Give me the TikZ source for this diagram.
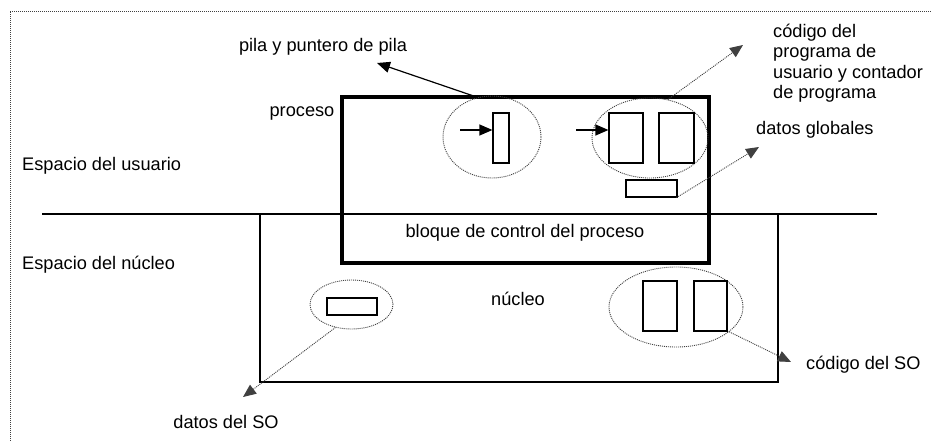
\documentclass[tikz,border=0pt]{standalone}
\usepackage{fontspec}
\setmainfont{Liberation Sans}
\usetikzlibrary{shapes.geometric}
\usetikzlibrary{arrows.meta}
\tikzstyle{cell} = [rectangle, draw=black, line width=1.2pt, inner sep=0pt]
\tikzstyle{zone} = [ellipse, draw=black!75, dash pattern=on 1pt off 1pt, line width=0.9pt, inner sep=0pt]
\tikzstyle{txt} = [inner sep=0pt, font=\fontsize{18.2}{20.5}\selectfont]
\tikzstyle{hint} = [dash pattern=on 1pt off 1pt, line width=0.9pt, draw=black!75]

\begin{document}
\begin{tikzpicture}[x=1pt, y=-1pt, >={Triangle[length=13pt,width=11pt]}]
\useasboundingbox (0,0) rectangle (932,441);
\draw [black!75, dash pattern=on 1pt off 1pt, line width=0.8pt] (10,441) -- (10,11) -- (932,11);

% regiones
\node (kern) [rectangle, draw, line width=1.2pt, minimum width=518pt, minimum height=168pt] at (519,298) {};
\coordinate (sepL) at (42,214);
\coordinate (sepR) at (877,214);
\draw [line width=1.2pt] (sepL) -- (sepR);
\node (proc) [rectangle, draw, line width=3.5pt, minimum width=367pt, minimum height=166pt] at (525.5,180) {};

% textos
\node (stacklbl) [txt] at (323,47) {pila y puntero de pila};
\node (proclbl) [txt] at (302,113) {proceso};
\node (userlbl) [txt, anchor=west] at (22,166) {Espacio del usuario};
\node (kernlbl) [txt, anchor=west] at (22,265) {Espacio del núcleo};
\node (codelbl) [txt, anchor=west, align=left] at (773,63) {código del\\programa de\\usuario y contador\\de programa};
\node (globlbl) [txt, anchor=west] at (756,130) {datos globales};
\node (pcblbl) [txt] at (525,233) {bloque de control del proceso};
\node (nuclbl) [txt] at (518,299) {núcleo};
\node (socodelbl) [txt, anchor=west] at (806,365) {código del SO};
\node (sodatalbl) [txt] at (226,422) {datos del SO};

% espacio del usuario
\node (sstack) [zone, minimum width=98pt, minimum height=82pt] at (492,137) {};
\node (stack) [cell, minimum width=16pt, minimum height=50pt] at (501,138) {};
\node (scode) [zone, minimum width=116pt, minimum height=80pt] at (650,138) {};
\node (codeA) [cell, minimum width=34pt, minimum height=50pt] at (626,138) {};
\node (codeB) [cell, minimum width=35pt, minimum height=50pt] at (676.5,138) {};
\node (glob) [cell, minimum width=51pt, minimum height=17pt] at (651.5,188.5) {};

% espacio del nucleo
\node (sdata) [zone, minimum width=83pt, minimum height=49pt] at (351.5,304.5) {};
\node (sodata) [cell, minimum width=50pt, minimum height=17pt] at (352,306.5) {};
\node (kcode) [zone, minimum width=134pt, minimum height=80pt] at (676,307) {};
\node (kcodeA) [cell, minimum width=34pt, minimum height=50pt] at (660,306) {};
\node (kcodeB) [cell, minimum width=33pt, minimum height=50pt] at (710.5,306) {};

\coordinate (stacktip) at (377,63);
\coordinate (stackptr) at (460,130);
\coordinate (pcptr) at (576,130);
\coordinate (codetip) at (743,45);
\coordinate (globtip) at (759,147);
\coordinate (datatip) at (243,397);
\coordinate (kcodetip) at (791,362);

\draw [->, line width=1.2pt] (sstack.110) -- (stacktip);
\draw [->, line width=1.2pt] (stackptr) -- (stackptr -| stack.west);
\draw [->, line width=1.2pt] (pcptr) -- (pcptr -| codeA.west);
\draw [->, hint] (scode.65) -- (codetip);
\draw [->, hint] (glob.-20) -- (globtip);
\draw [->, hint] (sdata.235) -- (datatip);
\draw [->, hint] (kcode.-25) -- (kcodetip);
\end{tikzpicture}
\end{document}
